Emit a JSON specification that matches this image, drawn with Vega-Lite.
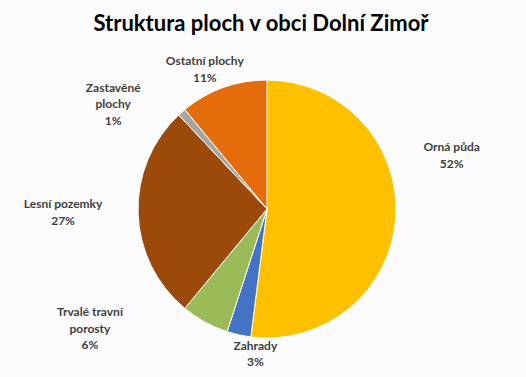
{
  "$schema": "https://vega.github.io/schema/vega-lite/v6.json",
  "width": 518,
  "height": 336,
  "autosize": "none",
  "padding": {"top": 41, "left": 8, "right": 0, "bottom": 0},
  "background": "#FBFBFB",
  "config": {"view": {"stroke": null}},
  "title": {
    "text": "Struktura ploch v obci Dolní Zimoř",
    "font": "Lato",
    "fontSize": 22,
    "fontWeight": "bold",
    "color": "#000000",
    "anchor": "middle",
    "offset": 5,
    "dx": -6
  },
  "data": {
    "values": [
      {"i": 1, "cat": "Orná půda", "label": "Orná půda\n52%", "value": 52},
      {"i": 2, "cat": "Zahrady", "label": "Zahrady\n3%", "value": 3},
      {"i": 3, "cat": "Trvalé travní porosty", "label": "Trvalé travní\nporosty\n6%", "value": 6},
      {"i": 4, "cat": "Lesní pozemky", "label": "Lesní pozemky\n27%", "value": 27},
      {"i": 5, "cat": "Zastavěné plochy", "label": "Zastavěné\nplochy\n1%", "value": 1},
      {"i": 6, "cat": "Ostatní plochy", "label": "Ostatní plochy\n11%", "value": 11}
    ]
  },
  "encoding": {
    "theta": {"field": "value", "type": "quantitative", "stack": true},
    "order": {"field": "i", "type": "quantitative"}
  },
  "layer": [
    {
      "mark": {"type": "arc", "outerRadius": 129, "stroke": "#FFFFFF", "strokeWidth": 1},
      "encoding": {
        "color": {
          "field": "cat",
          "type": "nominal",
          "legend": null,
          "scale": {
            "domain": ["Orná půda", "Zahrady", "Trvalé travní porosty", "Lesní pozemky", "Zastavěné plochy", "Ostatní plochy"],
            "range": ["#FFC000", "#4472C4", "#9BBB59", "#9C4A0A", "#A5A5A5", "#E46C0A"]
          }
        }
      }
    },
    {
      "mark": {"type": "text", "clip": true, "radius": 160, "font": "Lato", "fontSize": 12, "fontWeight": "bold", "color": "#404040", "lineBreak": "\n", "lineHeight": 16.5, "align": "center", "baseline": "middle", "dx": 25, "dy": -72},
      "encoding": {"text": {"condition": {"test": "datum.cat === 'Orná půda'", "field": "label"}, "value": ""}}
    },
    {
      "mark": {"type": "text", "clip": true, "radius": 145, "font": "Lato", "fontSize": 12, "fontWeight": "bold", "color": "#404040", "lineBreak": "\n", "lineHeight": 16.5, "align": "center", "baseline": "middle", "dx": 20, "dy": -5},
      "encoding": {"text": {"condition": {"test": "datum.cat === 'Zahrady'", "field": "label"}, "value": ""}}
    },
    {
      "mark": {"type": "text", "clip": true, "radius": 160, "font": "Lato", "fontSize": 12, "fontWeight": "bold", "color": "#404040", "lineBreak": "\n", "lineHeight": 16.5, "align": "center", "baseline": "middle", "dx": -100, "dy": -37},
      "encoding": {"text": {"condition": {"test": "datum.cat === 'Trvalé travní porosty'", "field": "label"}, "value": ""}}
    },
    {
      "mark": {"type": "text", "clip": true, "radius": 160, "font": "Lato", "fontSize": 12, "fontWeight": "bold", "color": "#404040", "lineBreak": "\n", "lineHeight": 16.5, "align": "center", "baseline": "middle", "dx": -44, "dy": -10},
      "encoding": {"text": {"condition": {"test": "datum.cat === 'Lesní pozemky'", "field": "label"}, "value": ""}}
    },
    {
      "mark": {"type": "text", "clip": true, "radius": 160, "font": "Lato", "fontSize": 12, "fontWeight": "bold", "color": "#404040", "lineBreak": "\n", "lineHeight": 16.5, "align": "center", "baseline": "middle", "dx": -48, "dy": -1},
      "encoding": {"text": {"condition": {"test": "datum.cat === 'Zastavěné plochy'", "field": "label"}, "value": ""}}
    },
    {
      "mark": {"type": "text", "clip": true, "radius": 160, "font": "Lato", "fontSize": 12, "fontWeight": "bold", "color": "#404040", "lineBreak": "\n", "lineHeight": 16.5, "align": "center", "baseline": "middle", "dx": -8, "dy": 3},
      "encoding": {"text": {"condition": {"test": "datum.cat === 'Ostatní plochy'", "field": "label"}, "value": ""}}
    }
  ]
}
